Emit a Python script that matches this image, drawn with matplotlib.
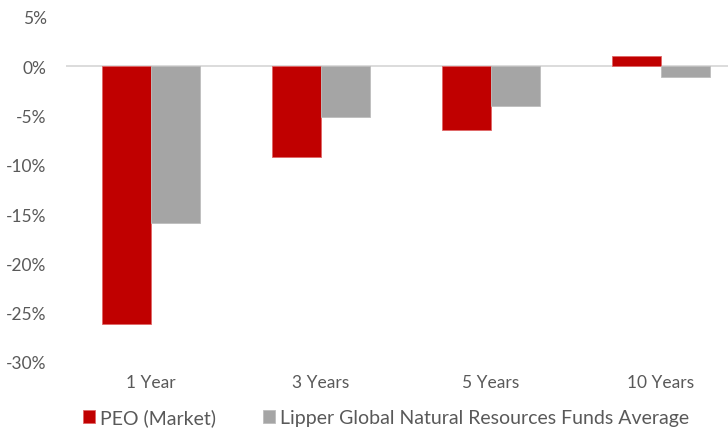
import matplotlib
matplotlib.use("Agg")
import matplotlib.pyplot as plt
import numpy as np

categories = ["1 Year", "3 Years", "5 Years", "10 Years"]
peo = [-26.1, -9.2, -6.5, 1.0]
lipper = [-15.9, -5.1, -4.05, -1.1]
series_names = ["PEO (Market)", "Lipper Global Natural Resources Funds Average"]
yticks = [5, 0, -5, -10, -15, -20, -25, -30]

plt.rcParams['font.family'] = ['Lato', 'DejaVu Sans']

W, H = 728, 431
fig = plt.figure(figsize=(W/100, H/100), dpi=100)
left, right, top, bottom = 66, 746, 18, 363
ax = fig.add_axes([left/W, (H-bottom)/H, (right-left)/W, (bottom-top)/H])

x = np.arange(len(categories))
bw = 0.288
ax.bar(x - bw/2, peo, bw, color="#C00000", label=series_names[0], zorder=2,
       edgecolor="#E06666", linewidth=0.6)
ax.bar(x + bw/2, lipper, bw, color="#A5A5A5", label=series_names[1], zorder=2,
       edgecolor="#BDBDBD", linewidth=0.6)
ax.axhline(0, color="#D9D9D9", lw=1.3, zorder=1)

ax.set_xlim(-0.5, 3.5)
ax.set_ylim(-30, 5)
ax.set_yticks(yticks)
ax.set_yticklabels([f"{v}%" for v in yticks])
ax.set_xticks(x)
ax.set_xticklabels(categories)
for s in ax.spines.values():
    s.set_visible(False)
ax.tick_params(axis="both", length=0, labelsize=12.5, colors="#595959")
ax.tick_params(axis="y", pad=14)
ax.tick_params(axis="x", pad=9)

leg = fig.legend(loc="center", bbox_to_anchor=(386/W, (H-418)/H), ncol=2, frameon=False,
                 fontsize=14, handlelength=0.65, handleheight=0.65, handletextpad=0.25,
                 columnspacing=2.4)
for t in leg.get_texts():
    t.set_color("#595959")

fig.savefig("out.png", dpi=100)
